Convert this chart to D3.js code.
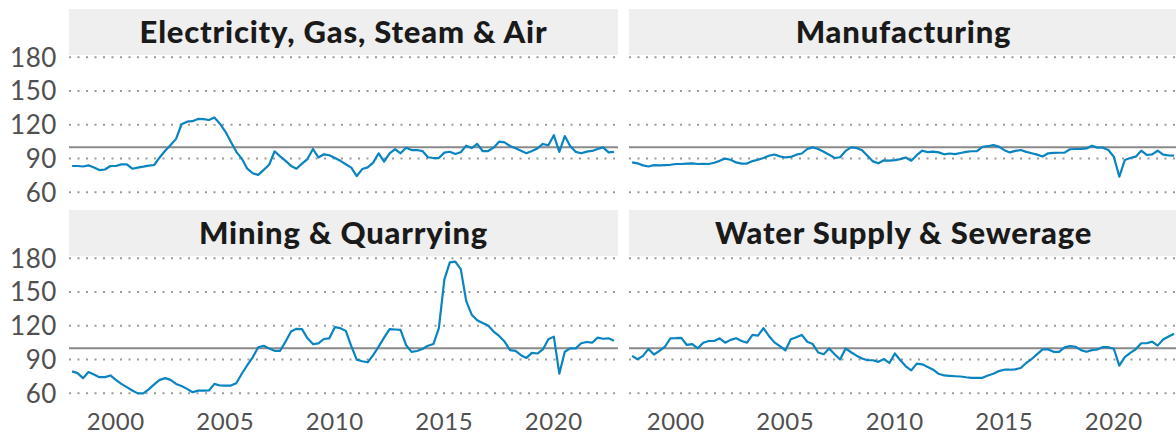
<!DOCTYPE html>
<html>
<head>
<meta charset="utf-8">
<script src="https://cdn.jsdelivr.net/npm/d3@7"></script>
<style>
  body { margin: 0; background: #fff; }
  svg { display: block; }
  .tick_label { font-family: Lato, "Open Sans", sans-serif; font-weight: 400; fill: #505050; letter-spacing: 0.6px; }
  .strip_title { font-family: Lato, "Open Sans", sans-serif; font-weight: 900; fill: #1a1a1a; letter-spacing: 0.8px; }
</style>
</head>
<body>
<div id="container"></div>
<script>
// quarterly index values, 1998 Q1 .. 2022 Q4
const quarters = d3.range(100).map(i => 1998 + i / 4);

const electricity = [
  83.4, 83.4, 83, 84, 82, 79.8, 80.3, 83.4, 83.4, 84.9,
  84.9, 81, 82, 82.8, 83.8, 84.3, 91, 97, 102, 107.5,
  120.5, 122.8, 123.2, 125.2, 125, 124.3, 126.5, 121, 114, 105,
  96, 90, 81, 77, 75.5, 80, 84.5, 96.5, 92, 88,
  83.5, 81, 85.5, 89.6, 98.5, 91, 93.8, 93, 90.5, 88,
  85, 82, 74.5, 80.7, 82.2, 86.4, 94.7, 87.3, 94.7, 98.5,
  94.7, 99.7, 97.6, 97.6, 96.7, 91.2, 90.5, 90.5, 95.3, 96.1,
  94.1, 95.6, 101.5, 99.3, 103, 96.7, 96.7, 99.7, 105, 104.4,
  101.2, 99.1, 96.9, 94.8, 96.8, 99, 103, 101.8, 110.8, 96,
  110, 101, 96, 94.7, 96.2, 96.8, 98.5, 100, 95.5, 96
];

const manufacturing = [
  86.6, 85.8, 84, 83, 84.2, 84, 84.2, 84.5, 85.2, 85.2,
  85.5, 85.8, 85.2, 85.3, 85.2, 86.3, 88, 90, 89, 86.6,
  85.5, 85.6, 87.8, 89, 90.5, 92.5, 93.6, 92, 91, 91.5,
  93.5, 94.5, 98.5, 100, 98.5, 96, 93.5, 90.5, 91.2, 96.8,
  100, 99.5, 97.5, 92.5, 87.5, 85.8, 88.5, 88.2, 88.7, 89.5,
  91, 88.1, 93, 97, 95.8, 96.2, 95.5, 93.8, 94.5, 94,
  95, 96, 96.5, 96.7, 100.5, 101, 102, 100.6, 97.5, 95.5,
  96.8, 97.6, 96, 94.7, 93.5, 91.8, 94.7, 95, 95.2, 95.3,
  98.3, 98.5, 98.5, 99, 101.3, 99.7, 99.7, 97.6, 91.7, 73.9,
  88.7, 90.5, 91.7, 97, 93.2, 93.8, 97, 93.5, 92.8, 92.6
];

const mining = [
  79.5, 78, 73.5, 78.9, 76.8, 74.4, 74.4, 75.9, 72, 68.4,
  65.5, 62.5, 60, 60, 63.5, 68, 72, 73.5, 72, 68.4,
  66.5, 64, 61, 62.4, 62.4, 62.6, 68.4, 67, 66.9, 66.9,
  69, 77.4, 85, 92, 101, 102.3, 99.9, 97.8, 97.8, 106,
  115, 117.3, 117, 108.9, 103.8, 104.4, 108.3, 108.9, 118.8, 117.9,
  115.5, 102, 90, 88.5, 87.6, 93.9, 101.5, 109.5, 117, 116.7,
  116.4, 103, 96.9, 97.6, 99.4, 102.3, 103.8, 117.9, 161, 176.4,
  177, 170.4, 141.9, 129.9, 125, 122.5, 120.3, 114.9, 111, 106,
  98.4, 97.8, 93.9, 91.5, 96, 95.4, 99, 108, 110.4, 77.5,
  97, 100, 100, 104.5, 105.6, 105, 109.5, 108.5, 108.9, 106.8
];

const water = [
  93.3, 90.3, 93.3, 99.5, 94.5, 97.8, 101.4, 108.9, 109, 109.3,
  103, 103.8, 100, 105, 106.5, 106.5, 108.9, 105, 107.5, 108.9,
  106.5, 105, 111.9, 111.3, 117.9, 111, 105.3, 102, 98.1, 108,
  109.8, 111.9, 105.9, 103.8, 96.3, 94.8, 99.9, 94.8, 90, 99.9,
  96.5, 93.5, 91, 89.4, 89.4, 88, 90.5, 87, 95.4, 89.4,
  84, 80.4, 86.4, 85.8, 83.4, 81, 77.4, 75.9, 75.5, 75.2,
  75, 74.3, 73.8, 73.8, 73.8, 75.9, 77.4, 79.8, 81, 81,
  81.3, 82.5, 87, 90.5, 94.8, 99, 99, 96.9, 96.9, 100.8,
  102, 101.4, 98.4, 96.9, 98.4, 99, 101.2, 101, 99.6, 84.6,
  92.2, 96, 99.2, 104.5, 104.5, 106, 102.4, 107.8, 110.5, 113
];

const panelTitles = ['Electricity, Gas, Steam & Air', 'Manufacturing', 'Mining & Quarrying', 'Water Supply & Sewerage'];
const panelSeries = [electricity, manufacturing, mining, water];
const yTicks = [60, 90, 120, 150, 180];
const xTicks = [2000, 2005, 2010, 2015, 2020];
const baseline = 100;

const width = 1176;
const height = 434;

const layout = {
  colX: [69, 629],
  rowY: [9, 210],
  panelWidth: 549,
  stripHeight: 46,
  plotHeight: 143
};

const svg = d3.select('#container')
  .append('svg')
  .attr('width', width)
  .attr('height', height);

const xScale = d3.scaleLinear()
  .domain([1997.86, 2022.93])
  .range([0, layout.panelWidth]);

const yScale = d3.scaleLinear()
  .domain([55, 182])
  .range([layout.plotHeight, 0]);

const line = d3.line()
  .x((d, i) => xScale(quarters[i]))
  .y(d => yScale(d));

panelTitles.forEach((title, k) => {
  const col = k % 2;
  const row = Math.floor(k / 2);
  const px = layout.colX[col];
  const py = layout.rowY[row];

  const g = svg.append('g')
    .attr('transform', `translate(${px}, ${py})`);

  //strip
  g.append('rect')
    .attr('width', layout.panelWidth)
    .attr('height', layout.stripHeight)
    .style('fill', '#efefef');

  g.append('text')
    .attr('class', 'strip_title')
    .attr('x', layout.panelWidth / 2)
    .attr('y', 34)
    .attr('text-anchor', 'middle')
    .style('font-size', '31px')
    .text(title);

  const plot = g.append('g')
    .attr('transform', `translate(0, ${layout.stripHeight})`);

  //dotted gridlines
  plot.selectAll('.grid')
    .data(yTicks)
    .enter()
    .append('line')
    .attr('class', 'grid')
    .attr('x1', 0)
    .attr('x2', layout.panelWidth)
    .attr('y1', d => yScale(d))
    .attr('y2', d => yScale(d))
    .style('stroke', '#9a9a9a')
    .style('stroke-width', 2)
    .style('stroke-dasharray', '2,6.5');

  //reference line
  plot.append('line')
    .attr('x1', 0)
    .attr('x2', layout.panelWidth)
    .attr('y1', yScale(baseline))
    .attr('y2', yScale(baseline))
    .style('stroke', '#8a8a8a')
    .style('stroke-width', 2);

  plot.append('path')
    .datum(panelSeries[k])
    .attr('d', line)
    .style('fill', 'none')
    .style('stroke', '#0a84c1')
    .style('stroke-width', 2.2)
    .style('stroke-linejoin', 'round');

  //left axis labels on first column
  if (col === 0) {
    plot.selectAll('.y_label')
      .data(yTicks)
      .enter()
      .append('text')
      .attr('class', 'tick_label')
      .attr('x', -12)
      .attr('y', d => yScale(d))
      .attr('dy', '0.36em')
      .attr('text-anchor', 'end')
      .style('font-size', '26px')
      .text(d => d);
  }

  //bottom axis labels on last row
  if (row === 1) {
    plot.selectAll('.x_label')
      .data(xTicks)
      .enter()
      .append('text')
      .attr('class', 'tick_label')
      .attr('x', d => xScale(d))
      .attr('y', layout.plotHeight + 31)
      .attr('text-anchor', 'middle')
      .style('font-size', '24px')
      .text(d => d);
  }
});
</script>
</body>
</html>
